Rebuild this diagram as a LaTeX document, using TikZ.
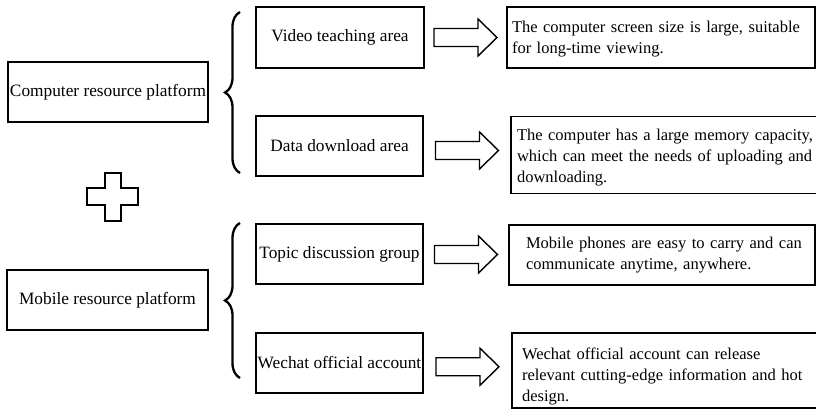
\documentclass[tikz,border=0pt]{standalone}
\usepackage{fontspec}
\setmainfont{Liberation Serif}
\usetikzlibrary{decorations.pathreplacing,calc}

\tikzset{
  box/.style={font=\fontsize{17.3}{21}\selectfont, draw, line width=1.5pt, inner sep=0pt, align=center},
  desc/.style={font=\fontsize{16.5}{20.8}\selectfont, draw, line width=1.5pt, inner xsep=4pt, inner ysep=0pt, align=left},
  curly/.style={line width=2.3pt, decorate, decoration={brace, amplitude=15pt}},
  blockarr/.pic={
    \draw[line width=1.4pt, line join=miter]
      (-31.5,-9) -- (12.5,-9) -- (12.5,-18.5) -- (31.5,0) -- (12.5,18.5)
      -- (12.5,9) -- (-31.5,9) -- cycle;
  }
}

\begin{document}
\begin{tikzpicture}[x=1pt, y=-1pt]
\useasboundingbox (0,0) rectangle (816,410);
\clip (0,0) rectangle (816,410);

% platforms
\node[box, minimum width=200, minimum height=60] (cpu) at (108,92) {Computer resource platform};
\node[box, minimum width=201, minimum height=60] (mob) at (107.5,300) {Mobile resource platform};

% resource areas
\node[box, minimum width=168, minimum height=61] (vid) at (340,37.5) {Video teaching area};
\node[box, minimum width=167, minimum height=60] (dat) at (339.5,146) {Data download area};
\node[box, minimum width=167, minimum height=60] (top) at (339.5,254) {Topic discussion group};
\node[box, minimum width=167, minimum height=60] (wec) at (339.5,363) {Wechat official account};

% descriptions (line offsets give each box its own left margin;
% struts on the first line push the text block slightly down)
\node[desc, text width=300, minimum height=61] (d1) at (661,37.5)
  {\hspace*{1pt}\rule{0pt}{15pt}The computer screen size is large, suitable\\
   \hspace*{1pt}for long-time viewing.};
\node[desc, text width=300, minimum height=77] (d2) at (665,155)
  {\hspace*{2pt}\rule{0pt}{17pt}The computer has a large memory capacity,\\
   \hspace*{2pt}which can meet the needs of uploading and\\
   \hspace*{2pt}downloading.};
\node[desc, text width=298, minimum height=60] (d3) at (662,255)
  {\hspace*{13pt}Mobile phones are easy to carry and can\\
   \hspace*{13pt}communicate anytime, anywhere.};
\node[desc, text width=300, minimum height=75] (d4) at (666,370.5)
  {\hspace*{6pt}\rule{0pt}{23pt}Wechat official account can release\\
   \hspace*{6pt}relevant cutting-edge information and hot\\
   \hspace*{6pt}design.};

% block arrows
\path ($(vid.east)!0.5!(d1.west)$) pic {blockarr};
\path ($(dat.east)!0.5!(d2.west)$) pic {blockarr};
\path ($(top.east)!0.5!(d3.west)$) pic {blockarr};
\path ($(wec.east)!0.5!(d4.west)$) pic {blockarr};

% braces
\coordinate (b1t) at (240,12);
\coordinate (b1b) at (240,173);
\coordinate (b2t) at (240,223);
\coordinate (b2b) at (240,378);
\draw[curly] (b1b) -- (b1t);
\draw[curly] (b2b) -- (b2t);

% plus sign
\draw[line width=1.6pt, line join=miter]
  (105,173) -- (121,173) -- (121,188) -- (138,188) -- (138,205) -- (121,205)
  -- (121,221) -- (105,221) -- (105,205) -- (87,205) -- (87,188) -- (105,188) -- cycle;
\end{tikzpicture}
\end{document}
